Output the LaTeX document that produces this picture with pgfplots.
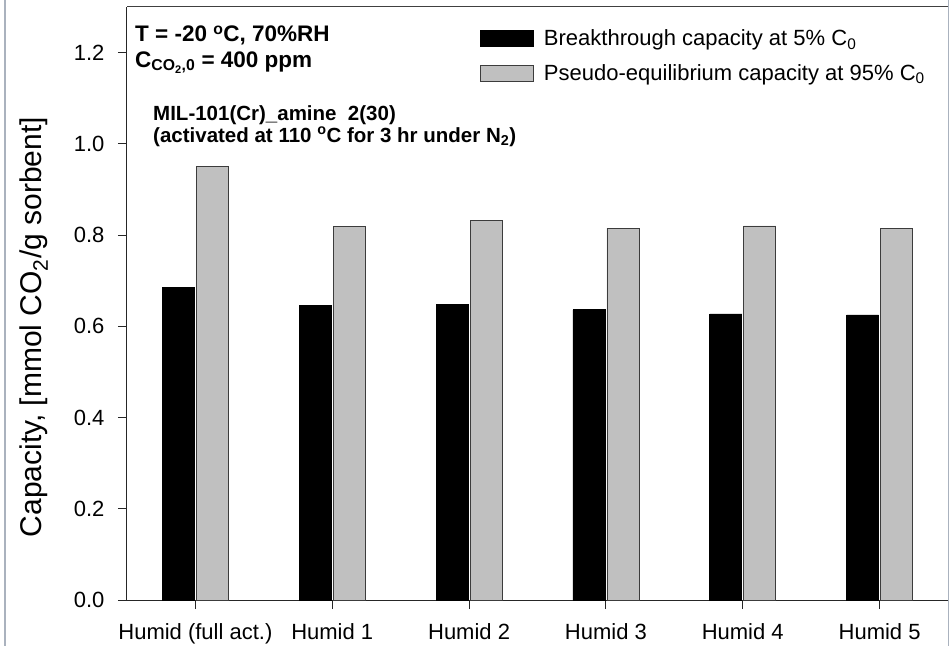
\documentclass[border=0pt]{standalone}
\usepackage{pgfplots}
\pgfplotsset{compat=1.18}
\usepackage{fontspec}
\setmainfont{Liberation Sans}
\definecolor{bargray}{RGB}{192,192,192}
\definecolor{edgegray}{RGB}{60,60,60}
\definecolor{framegray}{RGB}{170,178,190}
\begin{document}
\begin{tikzpicture}
\useasboundingbox (-127pt,-46pt) rectangle (822pt,600pt);
\begin{axis}[
  scale only axis,
  width=821pt, height=593pt,
  xmin=-0.5, xmax=5.5, ymin=0, ymax=1.3,
  ybar=2pt, bar width=32pt,
  axis x line*=bottom, axis y line*=left,
  axis line style={line width=1pt, black!85},
  tick style={line width=1pt, black!85},
  tick align=outside,
  major tick length=9pt,
  xtick={0,1,2,3,4,5},
  xticklabels={Humid (full act.),Humid 1,Humid 2,Humid 3,Humid 4,Humid 5},
  ytick={0,0.2,0.4,0.6,0.8,1.0,1.2},
  yticklabel style={/pgf/number format/.cd, fixed, fixed zerofill, precision=1, assume math mode=true, /tikz/.cd, xshift=-10pt},
  xticklabel style={yshift=-11pt},
  ticklabel style={font=\fontsize{22}{26}\selectfont},
  clip=false,
  legend style={draw=none, fill=none, at={(rel axis cs:0.4263,0.965)}, anchor=north west,
    font=\fontsize{22}{26}\selectfont, nodes={inner sep=0pt, anchor=west},
    column sep=10pt, row sep=17pt},
  legend cell align=left,
  mylegend/.style={legend image code/.code={\draw[##1] (0pt,-8pt) rectangle (53pt,8pt);}},
]
\addplot[fill=black, draw=black, line width=0.8pt, mylegend] coordinates {(0,0.686) (1,0.645) (2,0.647) (3,0.636) (4,0.627) (5,0.625)};
\addlegendentry{Breakthrough capacity at 5\% C\textsubscript{0}}
\addplot[fill=bargray, draw=edgegray, line width=0.8pt, mylegend] coordinates {(0,0.951) (1,0.818) (2,0.832) (3,0.815) (4,0.820) (5,0.815)};
\addlegendentry{Pseudo-equilibrium capacity at 95\% C\textsubscript{0}}
\draw[line width=1pt, black!75] (rel axis cs:0,1) -- (rel axis cs:1,1);
\draw[line width=1pt, framegray] (rel axis cs:1,1.0118) -- (rel axis cs:1,-0.0776);
\draw[line width=1.2pt, framegray] (rel axis cs:-0.1486,1.0118) -- (rel axis cs:-0.1486,-0.0776);
\node[rotate=90, font=\fontsize{30}{36}\selectfont] at (rel axis cs:-0.1133,0.46) {Capacity, [mmol CO\textsubscript{2}/g sorbent]};
\node[anchor=base west, inner sep=0pt, font=\bfseries\fontsize{22.5}{26}\selectfont] at (rel axis cs:0.0097,0.941) {T = -20 \textsuperscript{o}C, 70\%RH};
\node[anchor=base west, inner sep=0pt, font=\bfseries\fontsize{22.5}{26}\selectfont] at (rel axis cs:0.0097,0.8988) {C\textsubscript{CO\textsubscript{2},0} = 400 ppm};
\node[anchor=base west, inner sep=0pt, font=\bfseries\fontsize{20.5}{24}\selectfont] at (rel axis cs:0.0317,0.8094) {MIL-101(Cr)\_amine\ \ 2(30)};
\node[anchor=base west, inner sep=0pt, font=\bfseries\fontsize{20.5}{24}\selectfont] at (rel axis cs:0.0317,0.7723) {(activated at 110 \textsuperscript{o}C for 3 hr under N\textsubscript{2})};
\end{axis}
\end{tikzpicture}
\end{document}
